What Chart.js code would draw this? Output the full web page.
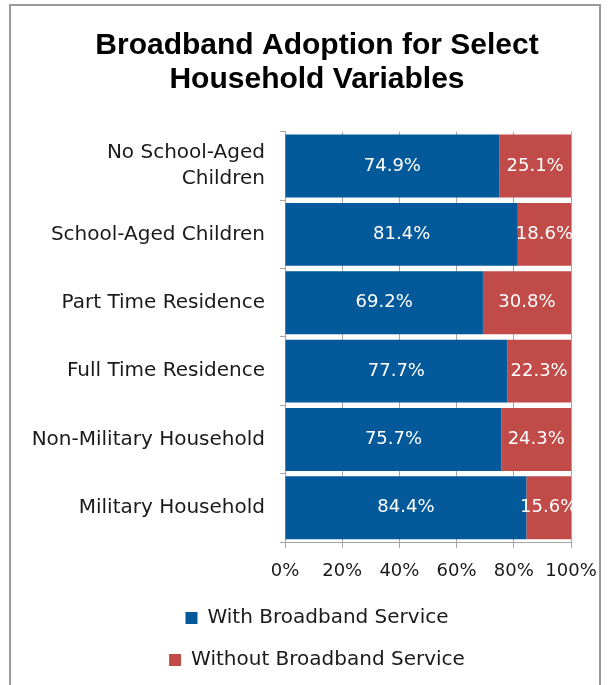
<!DOCTYPE html>
<html lang="en">
<head>
    <meta charset="UTF-8">
    <title>Broadband Adoption</title>
    <script src="https://cdn.jsdelivr.net/npm/chart.js"></script>
    <style>
        body { margin: 0; background: #fff; overflow: hidden; }
        #frame {
            position: absolute; left: 9px; top: 4px;
            width: 588px; height: 720px;
            border: 2px solid #9a9a9a;
        }
        #chart { position: absolute; left: 0; top: 0; }
    </style>
</head>
<body>
<div id="frame"></div>
<canvas id="chart" width="609" height="700"></canvas>

<script>
    const categories = [
        ['No School-Aged', 'Children'],
        'School-Aged Children',
        'Part Time Residence',
        'Full Time Residence',
        'Non-Military Household',
        'Military Household'
    ];
    const withBroadband = [74.9, 81.4, 69.2, 77.7, 75.7, 84.4];
    const withoutBroadband = [25.1, 18.6, 30.8, 22.3, 24.3, 15.6];
    const seriesNames = ['With Broadband Service', 'Without Broadband Service'];
    const titleLines = ['Broadband Adoption for Select', 'Household Variables'];

    const FONT = '"DejaVu Sans", sans-serif';

    // writes the percentage in the middle of each bar segment
    const valueLabels = {
        id: 'valueLabels',
        afterDatasetsDraw(chart) {
            const ctx = chart.ctx;
            ctx.save();
            ctx.font = '18px ' + FONT;
            ctx.fillStyle = '#ffffff';
            ctx.textAlign = 'center';
            ctx.textBaseline = 'middle';
            chart.data.datasets.forEach((ds, i) => {
                chart.getDatasetMeta(i).data.forEach((bar, j) => {
                    const p = bar.getProps(['x', 'y', 'base'], true);
                    ctx.fillText(ds.data[j].toFixed(1) + '%', (p.x + p.base) / 2, p.y);
                });
            });
            ctx.restore();
        }
    };

    new Chart(document.getElementById('chart'), {
        type: 'bar',
        data: {
            labels: categories,
            datasets: [
                { label: seriesNames[0], data: withBroadband, backgroundColor: '#03599a' },
                { label: seriesNames[1], data: withoutBroadband, backgroundColor: '#c04b48' }
            ]
        },
        options: {
            indexAxis: 'y',
            responsive: false,
            animation: false,
            barPercentage: 0.92,
            categoryPercentage: 1.0,
            layout: { padding: { left: 28, right: 3, top: 0, bottom: 20 } },
            plugins: {
                title: {
                    display: true,
                    text: titleLines,
                    color: '#000',
                    font: { family: '"Liberation Sans", Arial, sans-serif', size: 30, weight: 'bold', lineHeight: 1.13 },
                    padding: { top: 29, bottom: 35 }
                },
                legend: {
                    position: 'bottom',
                    labels: {
                        color: '#1a1a1a',
                        font: { family: FONT, size: 20 },
                        boxWidth: 12,
                        boxHeight: 12,
                        padding: 22
                    }
                },
                tooltip: { enabled: false }
            },
            scales: {
                x: {
                    stacked: true,
                    min: 0,
                    max: 100,
                    ticks: {
                        stepSize: 20,
                        color: '#1a1a1a',
                        font: { family: FONT, size: 18 },
                        padding: 13,
                        callback: v => v + '%'
                    },
                    grid: { color: '#a6a6a6', tickLength: 6 },
                    border: { color: '#a6a6a6' },
                    // room on the right for the "100%" label
                    afterFit: s => { s.height = 44; s.paddingRight = 38; }
                },
                y: {
                    stacked: true,
                    ticks: {
                        color: '#1a1a1a',
                        font: { family: FONT, size: 20, lineHeight: 1.3 },
                        padding: 15
                    },
                    grid: { drawOnChartArea: false, color: '#a6a6a6', tickLength: 5, offset: true },
                    border: { color: '#a6a6a6' },
                    afterFit: s => { s.width = 257; }
                }
            }
        },
        plugins: [valueLabels]
    });
</script>
</body>
</html>
